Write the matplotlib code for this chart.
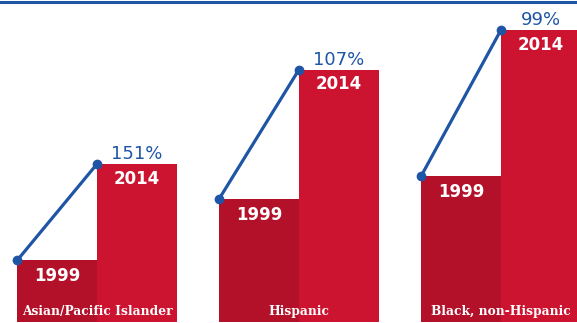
import matplotlib.pyplot as plt

# values (bar heights, arbitrary units)
groups = ["Asian/Pacific Islander", "Hispanic", "Black, non-Hispanic"]
vals_1999 = [62, 124, 147]
vals_2014 = [159, 254, 294]
changes = ["151%", "107%", "99%"]
year_labels = ["1999", "2014"]

RED_DARK = "#b3112a"
RED = "#cc1330"
BLUE = "#1f55a5"

fig = plt.figure(figsize=(5.77, 3.23), dpi=100)
ax = fig.add_axes([0, 0, 1, 1])

w = 0.395
xs = list(range(len(groups)))
ax.bar([x - w / 2 for x in xs], vals_1999, width=w, color=RED_DARK, linewidth=0)
ax.bar([x + w / 2 for x in xs], vals_2014, width=w, color=RED, linewidth=0)

for x, a, b, pct, name in zip(xs, vals_1999, vals_2014, changes, groups):
    ax.plot([x - w, x], [a, b], color=BLUE, lw=2.3, zorder=3,
            marker="o", markersize=6, solid_capstyle="round")
    ax.text(x - w / 2, a - 16, year_labels[0], color="white", ha="center",
            va="center", fontsize=12, fontweight="bold", family="DejaVu Sans")
    ax.text(x + w / 2, b - 15, year_labels[1], color="white", ha="center",
            va="center", fontsize=12, fontweight="bold", family="DejaVu Sans")
    ax.text(x + w / 2, b + 10, pct, color=BLUE, ha="center", va="center",
            fontsize=13, family="DejaVu Sans")
    ax.text(x, 11, name, color="white", ha="center", va="center",
            fontsize=8.8, fontweight="bold", family="DejaVu Serif")

ax.set_xlim(-0.48, 2.376)
ax.set_ylim(-1, 324)
ax.axis("off")

# blue rule across the top
fig.add_artist(plt.Line2D([0, 1], [0.995, 0.995], color=BLUE, lw=2.2,
                          transform=fig.transFigure))

fig.savefig("out.png", dpi=100)
